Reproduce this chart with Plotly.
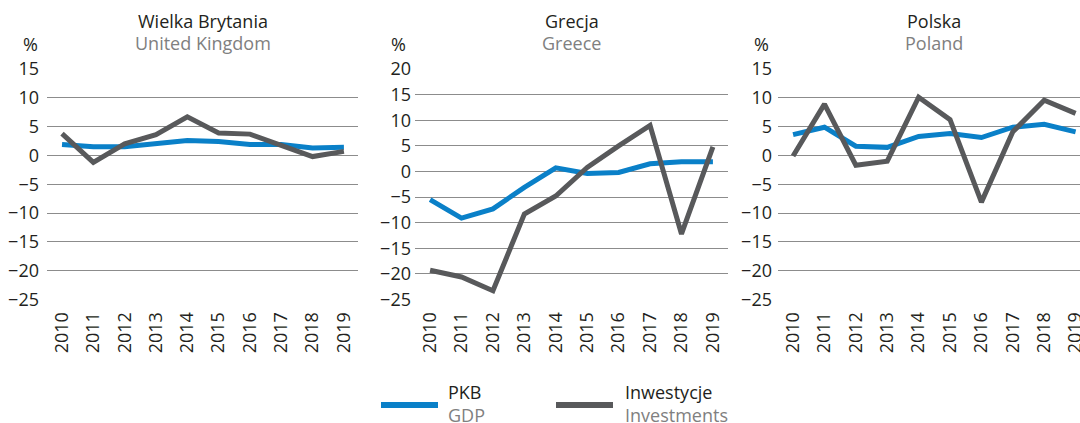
import plotly.graph_objects as go

years = [2010, 2011, 2012, 2013, 2014, 2015, 2016, 2017, 2018, 2019]

uk_gdp = [1.9, 1.5, 1.5, 2.1, 2.6, 2.4, 1.9, 1.9, 1.3, 1.4]
uk_inv = [3.8, -1.2, 2.0, 3.6, 6.7, 3.9, 3.7, 1.7, -0.2, 0.7]

gr_gdp = [-5.5, -9.1, -7.3, -3.1, 0.7, -0.4, -0.2, 1.5, 1.9, 1.9]
gr_inv = [-19.3, -20.6, -23.3, -8.3, -4.8, 0.8, 5.0, 9.0, -12.2, 4.8]

pl_gdp = [3.6, 4.9, 1.6, 1.4, 3.3, 3.8, 3.1, 4.9, 5.4, 4.1]
pl_inv = [-0.1, 8.9, -1.7, -1.0, 10.1, 6.2, -8.1, 4.1, 9.6, 7.3]

titles_pl = ["Wielka Brytania", "Grecja", "Polska"]
titles_en = ["United Kingdom", "Greece", "Poland"]
legend_pl = ["PKB", "Inwestycje"]
legend_en = ["GDP", "Investments"]

BLUE = "#0a80c8"
GREY = "#58595b"
GRID = "#8c8c8c"
FONT = "Open Sans"
W, H = 1080, 423

def px(x):
    return x / W

def py(y):
    return 1 - y / H

fig = go.Figure()

panels = [
    (uk_gdp, uk_inv, [47, 358], [2009.52, 2019.45], [-25, 15], "x", "y", 7),
    (gr_gdp, gr_inv, [415, 728], [2009.52, 2019.48], [-25, 20], "x2", "y2", 3),
    (pl_gdp, pl_inv, [778, 1080], [2009.52, 2019.14], [-25, 15], "x3", "y3", 5),
]

for i, (gdp, inv, dom, xr, yr, xa, ya, ystand) in enumerate(panels):
    fig.add_trace(go.Scatter(x=years, y=gdp, mode="lines", xaxis=xa, yaxis=ya,
                             line=dict(color=BLUE, width=5), showlegend=False,
                             name=legend_en[0]))
    fig.add_trace(go.Scatter(x=years, y=inv, mode="lines", xaxis=xa, yaxis=ya,
                             line=dict(color=GREY, width=5), showlegend=False,
                             name=legend_en[1]))
    sfx = "" if i == 0 else str(i + 1)
    fig.layout["xaxis" + sfx] = dict(
        domain=[px(dom[0]), px(dom[1])], range=xr, anchor=ya,
        tickvals=years, ticktext=[str(y) for y in years], tickangle=-90,
        showgrid=False, zeroline=False, showline=False, ticks="",
        tickfont=dict(family=FONT, size=18, color="#231f20"),
        ticklabelstandoff=8, automargin=False, ticklabeloverflow="allow",
    )
    fig.layout["yaxis" + sfx] = dict(
        domain=[py(299.5), py(69)], range=yr, anchor=xa,
        tickvals=list(range(yr[0], yr[1] + 1, 5)),
        showgrid=True, gridcolor=GRID, gridwidth=1,
        zeroline=False, showline=False, ticks="",
        tickfont=dict(family=FONT, size=18, color="#231f20"),
        ticklabelstandoff=ystand, automargin=False, ticklabeloverflow="allow",
    )
    cx = (dom[0] + (dom[1] if i < 2 else 1090)) / 2
    fig.add_annotation(x=px(cx), y=py(21), xref="paper", yref="paper",
                       text=titles_pl[i], showarrow=False, xanchor="center", yanchor="middle",
                       font=dict(family=FONT, size=18, color="#231f20"))
    fig.add_annotation(x=px(cx), y=py(43), xref="paper", yref="paper",
                       text=titles_en[i], showarrow=False, xanchor="center", yanchor="middle",
                       font=dict(family=FONT, size=18, color="#808080"))
    fig.add_annotation(x=px(dom[0] - 17), y=py(44), xref="paper", yref="paper",
                       text="%", showarrow=False, xanchor="center", yanchor="middle",
                       font=dict(family=FONT, size=18, color="#231f20"))

# legend drawn manually
leg = [(381, 438, BLUE, 447), (556, 613, GREY, 624)]
for j, (x0, x1, col, tx) in enumerate(leg):
    fig.add_shape(type="line", xref="paper", yref="paper",
                  x0=px(x0), x1=px(x1), y0=py(405), y1=py(405),
                  line=dict(color=col, width=6))
    fig.add_annotation(x=px(tx), y=py(403), xref="paper", yref="paper",
                       text=legend_pl[j] + "<br><span style='color:#808080'>" + legend_en[j] + "</span>",
                       showarrow=False, xanchor="left", yanchor="middle", align="left",
                       borderpad=0,
                       font=dict(family=FONT, size=18, color="#231f20"))

fig.update_layout(
    template="none",
    width=W, height=H, margin=dict(l=0, r=0, t=0, b=0, pad=0, autoexpand=False),
    paper_bgcolor="white", plot_bgcolor="white",
    font=dict(family=FONT, size=18, color="#231f20"),
)

fig.write_html(
    "out.html",
    config={"displayModeBar": False},
    post_script="document.body.style.margin='0';document.body.style.padding='0';"
                "document.body.style.overflow='hidden';"
                "document.documentElement.style.overflow='hidden';",
)
